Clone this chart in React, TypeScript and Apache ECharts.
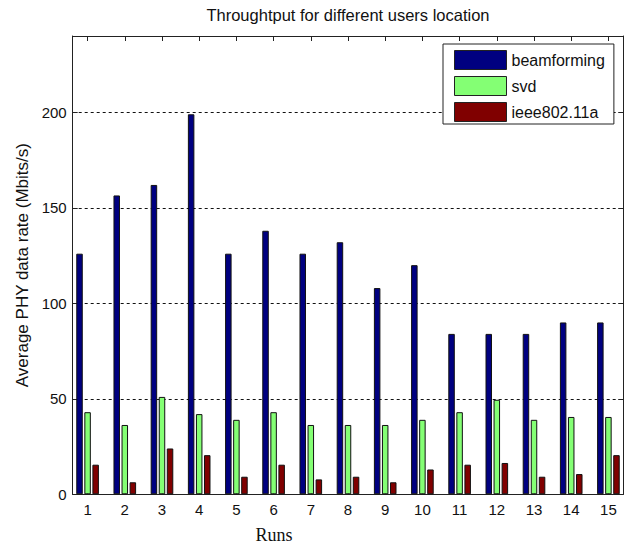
import React, { useEffect, useRef } from "react";
import * as echarts from "echarts";

const runs = [1, 2, 3, 4, 5, 6, 7, 8, 9, 10, 11, 12, 13, 14, 15];
const beamforming = [126, 156.5, 162, 199, 126, 138, 126, 132, 108, 120, 84, 84, 84, 90, 90];
const svd = [43, 36.3, 51, 42, 39, 43, 36.3, 36.3, 36.3, 39, 43, 49.5, 39, 40.5, 40.5];
const ieee = [15.5, 6.3, 24, 20.5, 9.2, 15.5, 7.8, 9.2, 6.3, 13, 15.5, 16.4, 9.2, 10.6, 20.5];
const seriesNames = ["beamforming", "svd", "ieee802.11a"];
const seriesColors = ["#000080", "#84ff74", "#800000"];
const yTickStep = 50;

const FONT = "'Liberation Sans', Arial, sans-serif";

export default function App() {
  const ref = useRef<HTMLDivElement>(null);
  useEffect(() => {
    if (!ref.current) return;
    const chart = echarts.init(ref.current, undefined, { renderer: "svg" });
    const values = [beamforming, svd, ieee];
    const axisLine = { show: true, onZero: false, lineStyle: { color: "#222", width: 1 } };
    const option: any = {
      animation: false,
      backgroundColor: "#ffffff",
      textStyle: { fontFamily: FONT },
      grid: { left: 72.7, right: 13.7, top: 36, bottom: 56.7, containLabel: false },
      graphic: [
        {
          type: "text",
          x: 348,
          y: 15,
          style: {
            text: "Throughtput for different users location",
            textAlign: "center",
            textVerticalAlign: "middle",
            font: `16.5px ${FONT}`,
            fill: "#111",
          },
        },
        {
          type: "text",
          x: 274,
          y: 535,
          style: {
            text: "Runs",
            textAlign: "center",
            textVerticalAlign: "middle",
            font: "18px 'Liberation Serif', 'Times New Roman', serif",
            fill: "#111",
          },
        },
      ],
      legend: {
        orient: "vertical",
        left: 443,
        top: 44,
        padding: [6, 9, 2, 11],
        icon: "rect",
        itemWidth: 52,
        itemHeight: 19,
        itemGap: 6,
        backgroundColor: "#fff",
        borderColor: "#222",
        borderWidth: 1,
        borderRadius: 0,
        textStyle: { fontSize: 16, color: "#111", fontFamily: FONT },
        itemStyle: { borderColor: "#222", borderWidth: 1 },
        data: seriesNames,
      },
      xAxis: [
        {
          type: "value",
          min: 0.6,
          max: 15.4,
          position: "bottom",
          axisLine,
          axisTick: { show: true, inside: true, length: 5, customValues: runs, lineStyle: { color: "#222" } },
          axisLabel: { customValues: runs, fontSize: 15, color: "#111", margin: 8, fontFamily: FONT },
          splitLine: { show: false },
        },
        {
          type: "value",
          min: 0.6,
          max: 15.4,
          position: "top",
          axisLine,
          axisTick: { show: true, inside: true, length: 5, customValues: runs, lineStyle: { color: "#222" } },
          axisLabel: { show: false },
          splitLine: { show: false },
        },
      ],
      yAxis: [
        {
          type: "value",
          min: 0,
          max: 240,
          interval: yTickStep,
          position: "left",
          axisLine,
          axisTick: { show: true, inside: true, length: 5, lineStyle: { color: "#222" } },
          axisLabel: {
            fontSize: 15,
            color: "#111",
            margin: 6,
            fontFamily: FONT,
            formatter: (v: number) => (v % yTickStep === 0 ? String(v) : ""),
          },
          splitLine: { show: true, lineStyle: { type: [3, 3], color: "#111", width: 1 } },
          name: "Average PHY data rate (Mbits/s)",
          nameLocation: "middle",
          nameGap: 40,
          nameTextStyle: { fontSize: 17, color: "#111", fontFamily: FONT },
        },
        {
          type: "value",
          min: 0,
          max: 240,
          interval: yTickStep,
          position: "right",
          axisLine,
          axisTick: { show: true, inside: true, length: 5, lineStyle: { color: "#222" } },
          axisLabel: { show: false },
          splitLine: { show: false },
        },
      ],
      series: seriesNames.map((name, s) => ({
        name,
        type: "bar",
        xAxisIndex: 0,
        yAxisIndex: 0,
        barWidth: 6.5,
        barGap: "24%",
        itemStyle: { color: seriesColors[s], borderColor: "#111", borderWidth: 1 },
        data: runs.map((r, i) => [r, values[s][i]]),
      })),
    };
    chart.setOption(option);
    return () => chart.dispose();
  }, []);
  return (
    <div
      ref={ref}
      style={{ position: "fixed", left: 0, top: 0, width: 637, height: 551, background: "#fff" }}
    />
  );
}
